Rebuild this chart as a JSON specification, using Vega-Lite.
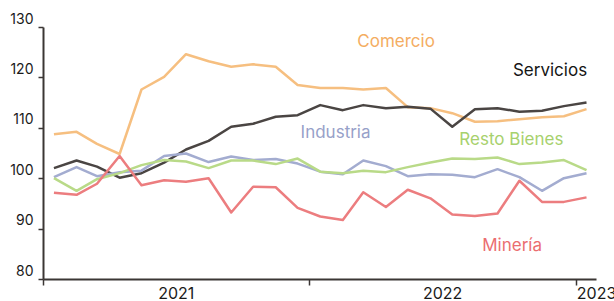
{
  "$schema": "https://vega.github.io/schema/vega-lite/v6.json",
  "width": 553,
  "height": 252,
  "autosize": {"type": "none"},
  "padding": {"left": 43, "top": 27, "right": 18, "bottom": 22},
  "background": "white",
  "config": {"view": {"stroke": null}, "font": "Inter"},
  "datasets": {
    "series": [
      {"date": "2021-01-16", "Comercio": 108.7, "Servicios": 102.0, "Industria": 100.2, "Resto Bienes": 100.0, "Minería": 97.1},
      {"date": "2021-02-16", "Comercio": 109.2, "Servicios": 103.5, "Industria": 102.2, "Resto Bienes": 97.5, "Minería": 96.7},
      {"date": "2021-03-16", "Comercio": 106.8, "Servicios": 102.3, "Industria": 100.4, "Resto Bienes": 99.8, "Minería": 98.9},
      {"date": "2021-04-16", "Comercio": 104.8, "Servicios": 100.1, "Industria": 101.2, "Resto Bienes": 101.0, "Minería": 104.4},
      {"date": "2021-05-16", "Comercio": 117.6, "Servicios": 101.0, "Industria": 101.5, "Resto Bienes": 102.6, "Minería": 98.6},
      {"date": "2021-06-16", "Comercio": 120.1, "Servicios": 103.1, "Industria": 104.4, "Resto Bienes": 103.6, "Minería": 99.6},
      {"date": "2021-07-16", "Comercio": 124.6, "Servicios": 105.7, "Industria": 104.9, "Resto Bienes": 103.3, "Minería": 99.3},
      {"date": "2021-08-16", "Comercio": 123.2, "Servicios": 107.4, "Industria": 103.2, "Resto Bienes": 102.0, "Minería": 100.0},
      {"date": "2021-09-16", "Comercio": 122.1, "Servicios": 110.2, "Industria": 104.3, "Resto Bienes": 103.5, "Minería": 93.2},
      {"date": "2021-10-16", "Comercio": 122.6, "Servicios": 110.8, "Industria": 103.6, "Resto Bienes": 103.5, "Minería": 98.3},
      {"date": "2021-11-16", "Comercio": 122.1, "Servicios": 112.2, "Industria": 103.8, "Resto Bienes": 102.8, "Minería": 98.2},
      {"date": "2021-12-16", "Comercio": 118.5, "Servicios": 112.5, "Industria": 102.9, "Resto Bienes": 103.9, "Minería": 94.1},
      {"date": "2022-01-16", "Comercio": 117.9, "Servicios": 114.5, "Industria": 101.3, "Resto Bienes": 101.3, "Minería": 92.4},
      {"date": "2022-02-16", "Comercio": 117.9, "Servicios": 113.5, "Industria": 100.8, "Resto Bienes": 101.0, "Minería": 91.7},
      {"date": "2022-03-16", "Comercio": 117.6, "Servicios": 114.5, "Industria": 103.5, "Resto Bienes": 101.5, "Minería": 97.2},
      {"date": "2022-04-16", "Comercio": 117.9, "Servicios": 113.9, "Industria": 102.4, "Resto Bienes": 101.2, "Minería": 94.3},
      {"date": "2022-05-16", "Comercio": 114.1, "Servicios": 114.2, "Industria": 100.4, "Resto Bienes": 102.2, "Minería": 97.7},
      {"date": "2022-06-16", "Comercio": 113.9, "Servicios": 113.8, "Industria": 100.8, "Resto Bienes": 103.1, "Minería": 96.0},
      {"date": "2022-07-16", "Comercio": 112.9, "Servicios": 110.2, "Industria": 100.7, "Resto Bienes": 103.9, "Minería": 92.8},
      {"date": "2022-08-16", "Comercio": 111.2, "Servicios": 113.7, "Industria": 100.2, "Resto Bienes": 103.8, "Minería": 92.5},
      {"date": "2022-09-16", "Comercio": 111.3, "Servicios": 113.9, "Industria": 101.8, "Resto Bienes": 104.1, "Minería": 93.0},
      {"date": "2022-10-16", "Comercio": 111.7, "Servicios": 113.2, "Industria": 100.2, "Resto Bienes": 102.8, "Minería": 99.5},
      {"date": "2022-11-16", "Comercio": 112.1, "Servicios": 113.4, "Industria": 97.5, "Resto Bienes": 103.1, "Minería": 95.3},
      {"date": "2022-12-16", "Comercio": 112.3, "Servicios": 114.3, "Industria": 100.0, "Resto Bienes": 103.6, "Minería": 95.3},
      {"date": "2023-01-16", "Comercio": 113.7, "Servicios": 115.0, "Industria": 101.0, "Resto Bienes": 101.6, "Minería": 96.2}
    ],
    "labels": [
      {"label": "Comercio", "date": "2022-04-30", "valor": 126.96},
      {"label": "Servicios", "date": "2022-11-27", "valor": 121.27},
      {"label": "Industria", "date": "2022-02-06", "valor": 109.03},
      {"label": "Resto Bienes", "date": "2022-10-05", "valor": 107.58},
      {"label": "Minería", "date": "2022-10-06", "valor": 86.6}
    ]
  },
  "layer": [
    {
      "data": {"name": "series"},
      "transform": [
        {"fold": ["Comercio", "Servicios", "Industria", "Resto Bienes", "Minería"], "as": ["serie", "valor"]}
      ],
      "mark": {"type": "line", "strokeWidth": 2.5, "strokeJoin": "round"},
      "encoding": {
        "x": {
          "field": "date",
          "type": "temporal",
          "scale": {
            "type": "utc",
            "domain": [
              {"year": 2021, "month": 1, "date": 1, "utc": true},
              {"year": 2023, "month": 1, "date": 29, "utc": true}
            ]
          },
          "axis": {
            "orient": "bottom",
            "title": null,
            "grid": false,
            "labels": false,
            "values": [
              {"year": 2021, "month": 1, "date": 1, "utc": true},
              {"year": 2022, "month": 1, "date": 1, "utc": true},
              {"year": 2023, "month": 1, "date": 1, "utc": true}
            ],
            "domainColor": "#3b3634",
            "domainWidth": 2,
            "tickColor": "#3b3634",
            "tickWidth": 1.5,
            "tickSize": 6
          }
        },
        "y": {
          "field": "valor",
          "type": "quantitative",
          "scale": {"domain": [80, 130], "nice": false, "zero": false},
          "axis": {
            "title": null,
            "grid": false,
            "values": [80, 90, 100, 110, 120, 130],
            "domainColor": "#3b3634",
            "domainWidth": 2,
            "tickColor": "#3b3634",
            "tickWidth": 1.5,
            "tickSize": 5,
            "labelPadding": 5,
            "labelFontSize": 14,
            "labelColor": "#1a1a1a",
            "labelFont": "Inter",
            "labelBaseline": "alphabetic",
            "labelOffset": -4
          }
        },
        "color": {
          "field": "serie",
          "type": "nominal",
          "scale": {
            "domain": ["Comercio", "Servicios", "Industria", "Resto Bienes", "Minería"],
            "range": ["#f6bf80", "#4a4543", "#a3acd0", "#b9da88", "#ec7d7f"]
          },
          "legend": null
        }
      }
    },
    {
      "data": {"name": "labels"},
      "mark": {"type": "text", "fontSize": 17, "font": "Inter", "align": "center", "baseline": "middle"},
      "encoding": {
        "x": {
          "field": "date",
          "type": "temporal",
          "axis": {
            "orient": "bottom",
            "title": null,
            "grid": false,
            "ticks": false,
            "tickSize": 0,
            "domain": false,
            "values": [
              {"year": 2021, "month": 7, "date": 2, "utc": true},
              {"year": 2022, "month": 7, "date": 2, "utc": true},
              {"year": 2023, "month": 1, "date": 2, "utc": true}
            ],
            "labelExpr": "utcFormat(datum.value, '%Y')",
            "labelFontSize": 16,
            "labelFont": "Inter",
            "labelColor": "#1a1a1a",
            "labelPadding": 6,
            "labelBound": false,
            "labelFlush": false,
            "labelOverlap": false,
            "labelAlign": {"condition": {"test": "datum.value > utc(2022, 11, 1)", "value": "left"}, "value": "center"}
          }
        },
        "y": {"field": "valor", "type": "quantitative"},
        "text": {"field": "label"},
        "color": {
          "field": "label",
          "type": "nominal",
          "scale": {
            "domain": ["Comercio", "Servicios", "Industria", "Resto Bienes", "Minería"],
            "range": ["#f4ad62", "#151515", "#97a1c9", "#a7d16d", "#eb6e70"]
          },
          "legend": null
        }
      }
    }
  ],
  "resolve": {"axis": {"x": "independent"}, "scale": {"color": "independent"}}
}
